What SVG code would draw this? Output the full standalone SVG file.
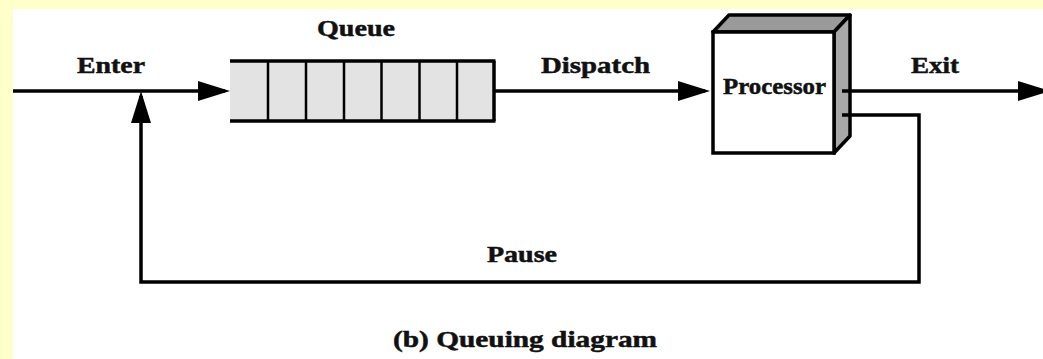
<svg xmlns="http://www.w3.org/2000/svg" width="1043" height="359" viewBox="0 0 1043 359">
<style>
.lbl{font-family:"Liberation Serif","Times New Roman",serif;font-weight:bold;font-size:24px;fill:#111;stroke:#111;stroke-width:0.5}
.ln{fill:none;stroke:#000;stroke-width:3.5}
.cell{stroke:#000;stroke-width:2.5}
</style>
<defs>
<marker id="arr" markerUnits="userSpaceOnUse" markerWidth="33" markerHeight="21" refX="27" refY="10" orient="auto" viewBox="0 0 33 21">
<path d="M0,0 L32,10 L0,20 Z" fill="#000"/>
</marker>
</defs>
<rect x="0" y="0" width="1043" height="359" fill="#ffffff"/>
<rect x="0" y="0" width="1043" height="9" fill="#ffffcc"/>
<rect x="0" y="0" width="13" height="359" fill="#ffffcc"/>

<g id="queue">
<rect x="230" y="61" width="264" height="60" fill="#e3e3e3"/>
<line x1="230" y1="61" x2="495.5" y2="61" class="ln"/>
<line x1="230" y1="121" x2="495.5" y2="121" class="ln"/>
<line x1="494" y1="61" x2="494" y2="121" class="ln"/>
<g class="cell">
<line x1="268" y1="61" x2="268" y2="121"/>
<line x1="306" y1="61" x2="306" y2="121"/>
<line x1="344" y1="61" x2="344" y2="121"/>
<line x1="381.5" y1="61" x2="381.5" y2="121"/>
<line x1="419.5" y1="61" x2="419.5" y2="121"/>
<line x1="457" y1="61" x2="457" y2="121"/>
</g>
<text class="lbl" x="317" y="36" textLength="78" lengthAdjust="spacingAndGlyphs">Queue</text>
</g>

<g id="processor">
<polygon points="713,32 729,15 850,15 834,32" fill="#9a9a9a" stroke="#000" stroke-width="3.5" stroke-linejoin="round"/>
<polygon points="834,32 850,15 850,136 834,153" fill="#a8a8a8" stroke="#000" stroke-width="3.5" stroke-linejoin="round"/>
<rect x="713" y="32" width="121" height="121" fill="#ffffff" stroke="#000" stroke-width="3.5"/>
<text class="lbl" x="723" y="94" textLength="103" lengthAdjust="spacingAndGlyphs">Processor</text>
</g>

<g id="connectors">
<line x1="13" y1="91" x2="225" y2="91" class="ln" marker-end="url(#arr)"/>
<line x1="494" y1="91" x2="705" y2="91" class="ln" marker-end="url(#arr)"/>
<line x1="842" y1="91" x2="1045" y2="91" class="ln" marker-end="url(#arr)"/>
<polyline points="842,115 919,115 919,282 141,282 141,96" class="ln" marker-end="url(#arr)"/>
<text class="lbl" x="77" y="73" textLength="68" lengthAdjust="spacingAndGlyphs">Enter</text>
<text class="lbl" x="541" y="73" textLength="109" lengthAdjust="spacingAndGlyphs">Dispatch</text>
<text class="lbl" x="911" y="73" textLength="48" lengthAdjust="spacingAndGlyphs">Exit</text>
<text class="lbl" x="487" y="262" textLength="70" lengthAdjust="spacingAndGlyphs">Pause</text>
</g>

<text class="lbl" x="393" y="347" style="font-size:23px" textLength="264" lengthAdjust="spacingAndGlyphs">(b) Queuing diagram</text>
</svg>
